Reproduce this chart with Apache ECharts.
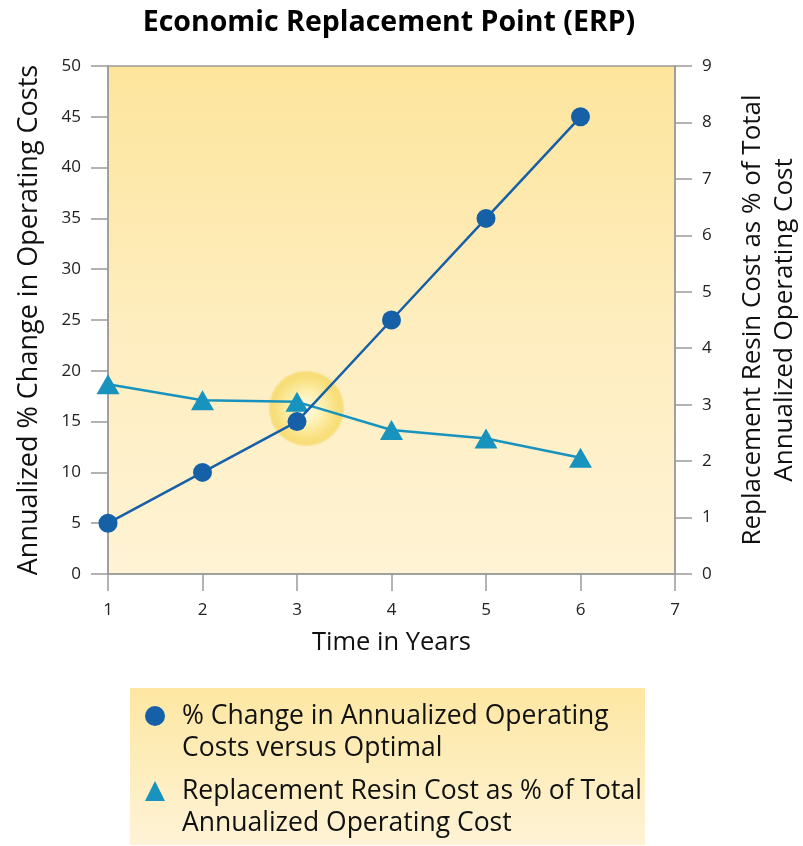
<!DOCTYPE html>
<html><head><meta charset="utf-8">
<script src="https://cdn.jsdelivr.net/npm/echarts@6/dist/echarts.min.js"></script>
<style>html,body{margin:0;padding:0;background:#fff}#c{width:803px;height:846px}</style>
</head><body><div id="c"></div>
<script>
const years = [1, 2, 3, 4, 5, 6];
const pctChange = [5, 10, 15, 25, 35, 45];
const resinCost = [3.36, 3.08, 3.05, 2.55, 2.4, 2.06];
const erpPoint = [3.1, 16.3];
const leftTicks = {min: 0, max: 50, interval: 5};
const rightTicks = {min: 0, max: 9, interval: 1};
const xTicks = {min: 1, max: 7, interval: 1};
const names = {
  s1: '% Change in Annualized Operating\nCosts versus Optimal',
  s2: 'Replacement Resin Cost as % of Total\nAnnualized Operating Cost',
  title: 'Economic Replacement Point (ERP)',
  x: 'Time in Years',
  yl: 'Annualized % Change in Operating Costs',
  yr: 'Replacement Resin Cost as % of Total\nAnnualized Operating Cost'
};
const FONT = 'Open Sans';
const BLUE = '#1660a8', TEAL = '#1893bd', AX = '#9a9a9a';

const chart = echarts.init(document.getElementById('c'), null, {renderer: 'canvas'});
const tickStyle = {show: true, length: 17, lineStyle: {color: AX, width: 1.5}};
const axisCommon = {
  axisLine: {show: true, lineStyle: {color: AX, width: 1.5}},
  axisTick: tickStyle,
  splitLine: {show: false},
  axisLabel: {color: '#222', fontFamily: FONT, fontSize: 17, margin: 27},
  nameTextStyle: {color: '#111', fontFamily: FONT, fontSize: 26, lineHeight: 32},
  nameLocation: 'middle'
};
chart.setOption({
  backgroundColor: '#fff',
  title: {text: names.title, left: 384, textAlign: 'center', top: 3,
    textStyle: {fontFamily: FONT, fontWeight: 'bold', fontSize: 28.5, color: '#000'}},
  grid: {left: 108, right: 128, top: 66, bottom: 272, show: true, borderColor: AX, borderWidth: 1.5,
    outerBoundsMode: 'none', containLabel: false,
    backgroundColor: new echarts.graphic.LinearGradient(0, 0, 0, 1, [
      {offset: 0, color: '#fde59c'}, {offset: 0.5, color: '#feedbe'}, {offset: 1, color: '#fef3d4'}])},
  graphic: [{type: 'rect', left: 130, top: 688, z: -1,
    shape: {width: 515, height: 157},
    style: {fill: new echarts.graphic.LinearGradient(0, 0, 0, 1, [
      {offset: 0, color: '#fde7a2'}, {offset: 1, color: '#fef3d6'}])}}],
  xAxis: Object.assign({}, axisCommon, {type: 'value', min: xTicks.min, max: xTicks.max, interval: xTicks.interval,
    name: names.x, nameGap: 53,
    nameTextStyle: Object.assign({}, axisCommon.nameTextStyle, {fontSize: 25.5}),
    axisLabel: Object.assign({}, axisCommon.axisLabel, {margin: 28})}),
  yAxis: [
    Object.assign({}, axisCommon, {type: 'value', position: 'left', min: leftTicks.min, max: leftTicks.max,
      interval: leftTicks.interval, name: names.yl, nameGap: 63, nameRotate: 90,
      nameTextStyle: Object.assign({}, axisCommon.nameTextStyle, {fontSize: 27})}),
    Object.assign({}, axisCommon, {type: 'value', position: 'right', min: rightTicks.min, max: rightTicks.max,
      interval: rightTicks.interval, name: names.yr, nameGap: 62, nameRotate: 90})
  ],
  legend: {orient: 'vertical', left: 145, top: 668, padding: 0, itemGap: -21, itemWidth: 20, itemHeight: 20,
    selectedMode: false,
    itemStyle: {borderWidth: 0},
    formatter: name => '\n' + name,
    textStyle: {fontFamily: FONT, fontSize: 26.5, lineHeight: 32, color: '#111', padding: [0, 0, 0, 12]},
    data: [{name: names.s1, icon: 'circle'}, {name: names.s2, icon: 'triangle'}]},
  series: [
    {type: 'scatter', name: 'ERP', yAxisIndex: 0, z: 1, silent: true,
      symbolSize: 76, data: [erpPoint],
      itemStyle: {color: new echarts.graphic.RadialGradient(0.5, 0.5, 0.5, [
        {offset: 0, color: '#fffdf0'}, {offset: 0.4, color: '#fdf2b0'}, {offset: 0.8, color: '#f8dc6c'}, {offset: 0.93, color: '#f6d862'}, {offset: 1, color: 'rgba(246,214,98,0.35)'}])}},
    {type: 'line', name: names.s1, yAxisIndex: 0, z: 3, data: years.map((x, i) => [x, pctChange[i]]),
      symbol: 'circle', symbolSize: 19, lineStyle: {color: BLUE, width: 2.5}, itemStyle: {color: BLUE}},
    {type: 'line', name: names.s2, yAxisIndex: 1, z: 2, data: years.map((x, i) => [x, resinCost[i]]),
      symbol: 'triangle', symbolSize: [23, 20], lineStyle: {color: TEAL, width: 2.5}, itemStyle: {color: TEAL}}
  ]
});
</script></body></html>
